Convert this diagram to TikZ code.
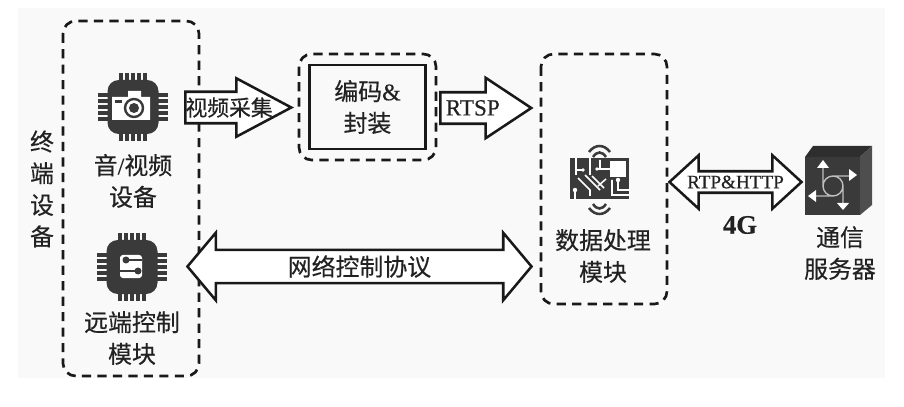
\documentclass[tikz,border=0pt]{standalone}
\usepackage{fontspec}
\usepackage{tikz}
\usetikzlibrary{shapes.arrows}
\setmainfont{Noto Sans CJK SC}[FakeBold=0.4]
\newfontfamily\latin{Liberation Serif}[FakeBold=0.4]
\definecolor{icondark}{HTML}{3A3A3A}
\definecolor{inktext}{HTML}{222222}

\begin{document}
\begin{tikzpicture}[x=0.025cm, y=-0.025cm,
	every node/.style = {inner sep=0pt, align=center, text=inktext,
		font=\fontsize{17}{22.5}\selectfont},
	groupbox/.style = {draw=black!90, line width=1.9pt, dash pattern=on 6.5pt off 4.5pt,
		rounded corners=9pt},
	blockarrow/.style = {single arrow, draw=black!90, fill=white, line width=1.8pt},
	twoarrow/.style = {double arrow, draw=black!90, fill=white, line width=1.8pt},
	chip/.pic = {
		\foreach \i in {-12,-6,0,6,12} {
			\draw[icondark, line width=2.5pt] (\i,-34) -- (\i,34) (-35,\i) -- (35,\i);
		}
		\fill[icondark, rounded corners=8pt] (-25.5,-27) rectangle (25.5,27);
	}]
	\useasboundingbox (0,0) rectangle (904,407);
	\fill[black!2.5] (18,8) rectangle (885,378);

	% dashed groups
	\draw[groupbox] (63,21) rectangle (199,376);
	\draw[groupbox] (299,54) rectangle (436,160);
	\draw[groupbox] (541,54) rectangle (667,304);

	% chip with camera
	\pic at (133,107) {chip};
	\fill[white] (112,97) rectangle (150,120) (128,91) rectangle (141,97);
	\fill[icondark] (115,100) rectangle (122,103);
	\draw[icondark, line width=1.7pt] (134,108) circle (9);
	\fill[icondark] (134,108) circle (5);

	% chip with traces
	\pic at (132,267) {chip};
	\fill[white, rounded corners=2pt] (120,255) rectangle (142,278);
	\draw[icondark, line width=1.4pt] (126,260) -- (142,260) (138,271) -- (120,271);
	\fill[icondark] (126,260) circle (3.5) (138,271) circle (3.5);

	% board
	\fill[icondark] (570,158) rectangle (629,199);
	\fill[white] (610,161) rectangle (626,177);
	\draw[white, line width=1.1pt] (576,158) -- (576,175) (576,170) -- (583,170) (590,158) -- (590,175)
		(578,178) -- (590,190) -- (590,196) (585,175) -- (600,190) (592,176) -- (604,188)
		(597,169) -- (610,169) (575,190) -- (575,199) (612,180) -- (612,195) -- (629,195)
		(618,180) -- (618,190) -- (629,190) (600,160) -- (600,169) (606,179) -- (598,186);
	\fill[white] (583,170) circle (1.8) (597,169) circle (1.8) (575,190) circle (2.2) (618,180) circle (2.2);
	\draw[icondark, line width=1.8pt] (589,152) .. controls (595,144) and (604,144) .. (610,152)
		(593,157) .. controls (597,151) and (602,151) .. (606,157)
		(593,204) .. controls (597,210) and (602,210) .. (606,204)
		(589,208) .. controls (595,216) and (604,216) .. (610,208);

	% cube
	\fill[icondark!80!black] (805,157) -- (813,146) -- (872,146) -- (860,157) -- cycle;
	\fill[icondark!90!white] (860,157) -- (872,146) -- (872,205) -- (860,215) -- cycle;
	\fill[icondark] (805,157) rectangle (860,215);
	\draw[white!75!black, line width=1pt] (833,186) circle (10) (823,166) -- (823,186) (833,176) -- (851,176)
		(843,186) -- (843,204) (815,196) -- (833,196);
	\fill[white] (823,160) -- (817,168) -- (829,168) -- cycle
		(857,175) -- (849,169) -- (849,181) -- cycle
		(843,210) -- (837,203) -- (849,203) -- cycle
		(808,196) -- (816,190) -- (816,202) -- cycle;

	% coding box
	\node[draw=black!90, line width=2.1pt, minimum width=2.9cm, minimum height=2.1cm] (coder) at (367.5,107)
		{编码{\latin\&}\\封装};

	% block arrows
	\node[blockarrow, anchor=tail, minimum height=2.65cm, minimum width=1.4cm,
		single arrow head extend=0.3375cm, single arrow tip angle=56, text height=16.2pt, text depth=4.4pt,
		font=\fontsize{15.5}{18}\selectfont] (capture) at (184,107.5) {\makebox[30pt][l]{\hspace{-12pt}视频采集}};
	\node[blockarrow, anchor=tail, minimum height=2.275cm, minimum width=1.45cm,
		single arrow head extend=0.3625cm, single arrow tip angle=67, text height=15.6pt, text depth=5pt,
		font=\latin\fontsize{16.5}{18}\selectfont] (rtsp) at (439,108) {\makebox[30pt][l]{\hspace{-5pt}RTSP}};
	\node[twoarrow, minimum height=8.6cm, minimum width=1.625cm,
		double arrow head extend=0.425cm, double arrow tip angle=100, text height=17.5pt, text depth=4.5pt] (control) at (359.5,266.5) {网络控制协议};
	\node[twoarrow, minimum height=3.3cm, minimum width=1.275cm,
		double arrow head extend=0.4cm, double arrow tip angle=85, text height=11.25pt, text depth=2.25pt,
		font=\latin\fontsize{13.6}{16}\selectfont] (link) at (735.5,182) {RTP\&HTTP};

	% labels
	\node (terminal) at (42,189) {终\\端\\设\\备};
	\node (avdevice) at (133,181) {音{\latin/}视频\\设备};
	\node (remote) at (132,338) {远端控制\\模块};
	\node (process) at (603,256) {数据处理\\模块};
	\node (server) at (840,253) {通信\\服务器};
	\node[font=\latin\bfseries\fontsize{19}{22}\selectfont] (net) at (740,225) {4G};
\end{tikzpicture}
\end{document}
